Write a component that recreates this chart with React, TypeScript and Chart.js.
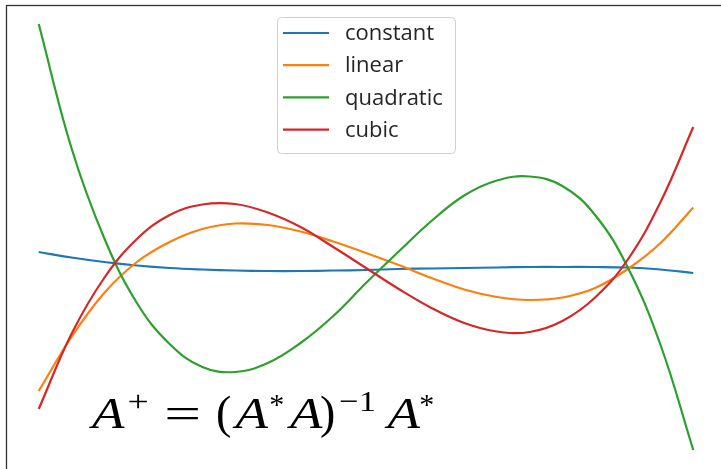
import { useEffect, useRef } from "react";
import { Chart, registerables } from "chart.js";

Chart.register(...registerables);

// Sample positions along the fitted interval (0 = left end, 1 = right end)
const xs = [
  0, 0.05, 0.1, 0.15, 0.2, 0.25, 0.3, 0.35, 0.4, 0.45, 0.5,
  0.55, 0.6, 0.65, 0.7, 0.75, 0.8, 0.85, 0.9, 0.95, 1,
];

const constantVals = [
  0.08, 0.025, -0.02, -0.055, -0.08, -0.095, -0.105, -0.11, -0.11, -0.105, -0.1,
  -0.09, -0.085, -0.08, -0.075, -0.07, -0.07, -0.07, -0.075, -0.095, -0.13,
];
const linearVals = [
  -1.31, -0.77, -0.33, -0.02, 0.18, 0.31, 0.365, 0.35, 0.285, 0.185, 0.07,
  -0.05, -0.18, -0.295, -0.37, -0.4, -0.375, -0.28, -0.09, 0.17, 0.525,
];
const quadraticVals = [
  2.36, 1.12, 0.22, -0.43, -0.84, -1.07, -1.12, -1.03, -0.83, -0.56, -0.23,
  0.085, 0.39, 0.645, 0.795, 0.835, 0.74, 0.45, -0.075, -0.85, -1.9,
];
const cubicVals = [
  -1.49, -0.74, -0.18, 0.21, 0.45, 0.555, 0.56, 0.475, 0.33, 0.13, -0.08,
  -0.29, -0.48, -0.63, -0.715, -0.72, -0.61, -0.375, 0.005, 0.58, 1.33,
];

const seriesLabels = ["constant", "linear", "quadratic", "cubic"];
const seriesValues = [constantVals, linearVals, quadraticVals, cubicVals];
const seriesColors = ["#1f77b4", "#ff7f0e", "#2ca02c", "#d62728"];

// Axes frame (spines) around the plotting area
const framePlugin = {
  id: "frame",
  afterDraw(chart: any) {
    const { ctx, chartArea } = chart;
    ctx.save();
    ctx.strokeStyle = "#333333";
    ctx.lineWidth = 1.3;
    ctx.strokeRect(
      chartArea.left + 0.5,
      chartArea.top + 0.5,
      chartArea.right - chartArea.left,
      chartArea.bottom - chartArea.top
    );
    ctx.restore();
  },
};

// Legend box drawn inside the axes, upper centre
const legendPlugin = {
  id: "insideLegend",
  afterDraw(chart: any) {
    const { ctx, chartArea } = chart;
    const boxW = 178;
    const boxH = 136;
    const cx = (chartArea.left + chartArea.right) / 2;
    const left = cx - boxW / 2;
    const top = chartArea.top + 12;
    ctx.save();
    ctx.beginPath();
    if (ctx.roundRect) ctx.roundRect(left + 0.5, top + 0.5, boxW, boxH, 4);
    else ctx.rect(left + 0.5, top + 0.5, boxW, boxH);
    ctx.fillStyle = "rgba(255,255,255,0.8)";
    ctx.fill();
    ctx.strokeStyle = "#d0d0d0";
    ctx.lineWidth = 1;
    ctx.stroke();

    ctx.font = '22px "Open Sans", "DejaVu Sans", sans-serif';
    ctx.textBaseline = "middle";
    ctx.textAlign = "left";
    chart.data.datasets.forEach((ds: any, i: number) => {
      const y = top + 16 + i * 32.2;
      ctx.strokeStyle = ds.borderColor;
      ctx.lineWidth = 2.2;
      ctx.beginPath();
      ctx.moveTo(left + 6, y);
      ctx.lineTo(left + 52, y);
      ctx.stroke();
      ctx.fillStyle = "#262626";
      ctx.fillText(ds.label, left + 68, y + 1);
    });
    ctx.restore();
  },
};

// Pseudo-inverse formula annotation, A⁺ = (A*A)⁻¹A*
const SERIF = '"Liberation Serif", serif';
const formulaPieces = [
  { text: "A", dx: 19, dy: 0, size: 45, italic: true, sx: 1.18 },
  { text: "+", dx: 49, dy: -17, size: 29, italic: false, sx: 1.3 },
  { text: "=", dx: 93.5, dy: 0, size: 45, italic: false, sx: 1.45 },
  { text: "(", dx: 134.5, dy: 0, size: 46, italic: false, sx: 1 },
  { text: "A", dx: 162.5, dy: 0, size: 45, italic: true, sx: 1.18 },
  { text: "*", dx: 187.5, dy: -14, size: 30, italic: false, sx: 1 },
  { text: "A", dx: 217, dy: 0, size: 45, italic: true, sx: 1.18 },
  { text: ")", dx: 238.5, dy: 0, size: 46, italic: false, sx: 1 },
  { text: "\u22121", dx: 268.5, dy: -17, size: 30, italic: false, sx: 1.15 },
  { text: "A", dx: 314.5, dy: 0, size: 45, italic: true, sx: 1.18 },
  { text: "*", dx: 337.5, dy: -14, size: 30, italic: false, sx: 1 },
];
const formulaX = 0.077;
const formulaY = -1.68;

const formulaPlugin = {
  id: "formula",
  afterDatasetsDraw(chart: any) {
    const { ctx, scales } = chart;
    const x0 = scales.x.getPixelForValue(formulaX);
    const base = scales.y.getPixelForValue(formulaY);
    for (const p of formulaPieces) {
      ctx.save();
      ctx.fillStyle = "#000000";
      ctx.textAlign = "center";
      ctx.textBaseline = "alphabetic";
      ctx.font = `${p.italic ? "italic " : ""}${p.size}px ${SERIF}`;
      ctx.translate(x0 + p.dx, base + p.dy);
      ctx.scale(p.sx, 1);
      ctx.fillText(p.text, 0, 0);
      ctx.restore();
    }
  },
};

export default function App() {
  const canvasRef = useRef<HTMLCanvasElement | null>(null);

  useEffect(() => {
    const canvas = canvasRef.current;
    if (!canvas) return;
    const chart = new Chart(canvas, {
      type: "line",
      data: {
        datasets: seriesLabels.map((label, i) => ({
          label,
          data: xs.map((x, j) => ({ x, y: seriesValues[i][j] })),
          borderColor: seriesColors[i],
          backgroundColor: seriesColors[i],
          borderWidth: 2.2,
          pointRadius: 0,
          fill: false,
          tension: 0.4,
          order: seriesLabels.length - i,
        })),
      },
      options: {
        responsive: false,
        animation: false,
        layout: { padding: { left: 6, top: 5, right: 6, bottom: 6 } },
        scales: {
          x: { type: "linear", min: -0.05, max: 1.05, display: false },
          y: { type: "linear", min: -2.12, max: 2.55, display: false },
        },
        plugins: {
          legend: { display: false },
          tooltip: { enabled: false },
        },
      },
      plugins: [formulaPlugin, framePlugin, legendPlugin],
    });
    return () => chart.destroy();
  }, []);

  return (
    <div
      style={{
        position: "fixed",
        left: 0,
        top: 0,
        width: 721,
        height: 469,
        overflow: "hidden",
        background: "#ffffff",
      }}
    >
      <canvas
        ref={canvasRef}
        width={732}
        height={478}
        style={{ width: 732, height: 478, display: "block" }}
      />
    </div>
  );
}
